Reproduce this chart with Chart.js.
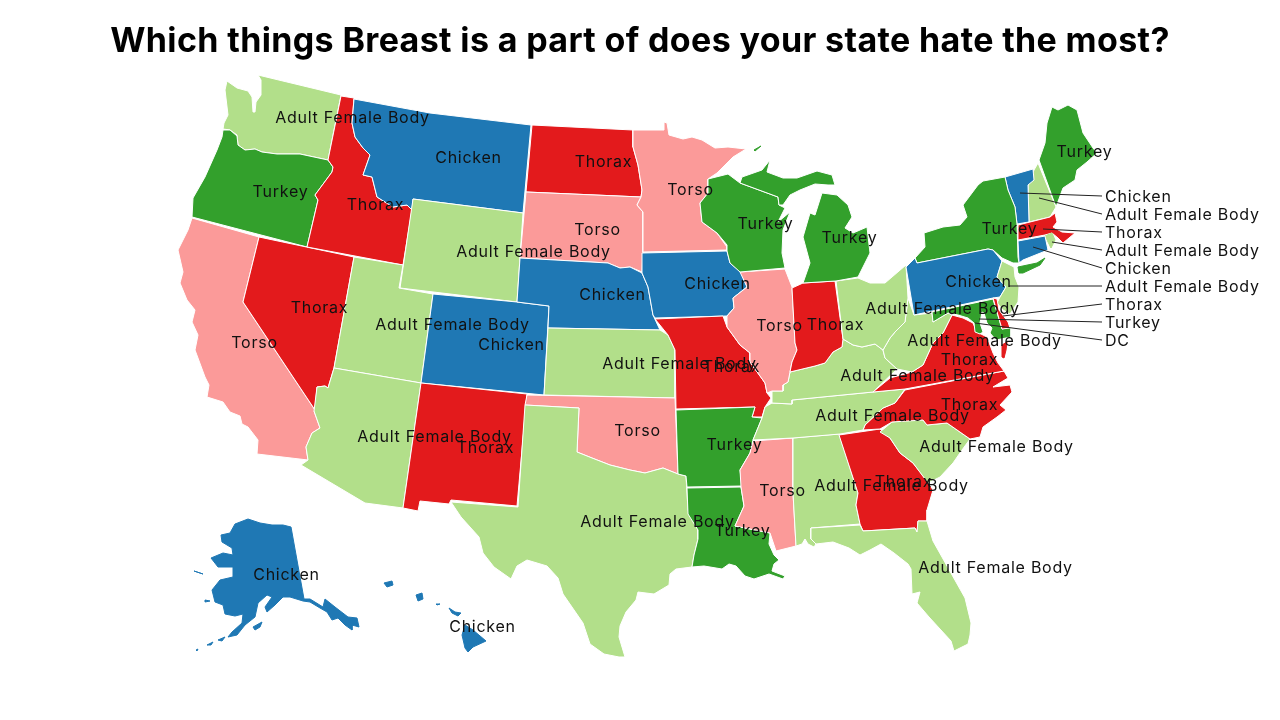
<!DOCTYPE html>
<html>
<head>
    <meta charset="utf-8" />
    <title>Which things Breast is a part of</title>
    <script src="https://cdn.jsdelivr.net/npm/chart.js"></script>
    <style>
        html, body { margin: 0; padding: 0; background: #fff; }
        canvas { display: block; }
    </style>
</head>
<body>
    <canvas id="mapChart" width="1280" height="720"></canvas>

    <script>
        // state outlines (x, y in picture units)
        const WA = [[227,81],[237,88],[248,91],[252,97],[253,112],[255,112],[256,102],[261,95],[261,80],[258,75],[341,95],[328,160],[300,154],[277,154],[262,152],[255,149],[245,150],[238,145],[237,135],[230,130],[223,129],[224,123],[228,115],[225,90]];
        const OR = [[223,130],[230,130],[237,136],[238,145],[245,150],[255,149],[262,152],[277,154],[300,154],[328,160],[333,167],[332,172],[315,195],[318,200],[307,247],[192,217],[193,198],[205,177],[217,150],[222,137]];
        const CA = [[192,218],[259,237],[243,302],[315,410],[314,411],[320,428],[312,433],[306,447],[308,460],[257,454],[258,440],[248,427],[242,424],[240,416],[230,412],[223,402],[207,397],[209,385],[205,377],[195,350],[198,335],[192,322],[195,310],[187,300],[180,283],[183,272],[178,250],[188,230]];
        const NV = [[259,237],[354,257],[334,368],[328,388],[325,386],[317,387],[315,410],[243,302]];
        const ID = [[341,96],[354,98],[352,123],[355,137],[363,148],[370,155],[363,175],[372,177],[377,197],[393,207],[407,205],[412,210],[403,265],[307,247],[318,200],[315,195],[332,172],[333,167],[328,160]];
        const MT = [[354,99],[430,113],[531,125],[523,213],[413,199],[412,210],[407,205],[393,207],[377,197],[372,177],[363,175],[370,155],[363,148],[355,137],[352,123]];
        const WY = [[413,199],[523,213],[517,302],[400,288]];
        const UT = [[354,257],[403,265],[399,288],[433,294],[421,383],[334,368]];
        const AZ = [[334,368],[421,383],[403,508],[365,503],[301,465],[308,460],[306,447],[312,433],[320,428],[314,411],[317,387],[325,386],[328,388]];
        const CO = [[433,294],[517,302],[549,306],[544,395],[421,383]];
        const NM = [[421,383],[527,394],[517,506],[451,500],[449,504],[420,501],[418,511],[403,508]];
        const ND = [[532,125],[633,130],[633,147],[638,165],[642,190],[641,197],[526,192]];
        const SD = [[526,192],[641,197],[637,205],[643,212],[643,252],[642,272],[630,267],[620,268],[608,263],[520,258]];
        const NE = [[520,258],[608,263],[620,268],[630,267],[642,273],[648,287],[653,315],[660,330],[548,328],[549,306],[517,302]];
        const KS = [[548,328],[660,330],[668,335],[675,350],[675,398],[544,395]];
        const OK = [[527,395],[675,398],[678,474],[663,468],[645,473],[630,470],[610,465],[592,458],[577,452],[579,408],[525,405]];
        const TX = [[525,405],[579,408],[577,452],[592,458],[610,465],[630,470],[645,473],[663,468],[678,474],[686,476],[688,510],[698,530],[698,539],[694,555],[692,567],[676,569],[670,574],[669,585],[654,594],[638,592],[636,600],[626,612],[620,626],[619,637],[625,657],[619,657],[604,654],[590,644],[583,623],[563,594],[558,578],[547,566],[527,560],[517,566],[511,579],[494,567],[483,553],[479,537],[461,517],[451,502],[518,507]];
        const MN = [[633,130],[664,130],[664,122],[667,123],[669,135],[683,139],[692,137],[702,140],[715,148],[728,147],[746,149],[733,157],[717,173],[708,179],[708,193],[700,203],[702,222],[717,233],[727,247],[727,250],[643,252],[643,212],[637,205],[641,197],[642,190],[638,165],[633,147]];
        const IA = [[642,253],[727,251],[730,263],[742,273],[747,287],[733,298],[734,308],[727,316],[655,318],[653,315],[648,287],[642,273]];
        const MO = [[655,319],[723,316],[727,327],[740,345],[750,353],[750,362],[765,383],[767,393],[771,398],[765,407],[762,417],[752,417],[755,407],[676,409],[675,350],[668,335]];
        const AR = [[676,410],[755,407],[752,417],[762,418],[753,440],[750,453],[740,470],[742,486],[687,487],[686,476],[678,474]];
        const LA = [[687,488],[741,487],[744,506],[735,526],[770,533],[769,544],[774,555],[779,560],[774,564],[772,571],[785,576],[783,579],[769,574],[763,576],[754,579],[745,576],[736,566],[729,564],[722,569],[704,566],[692,567],[694,555],[698,539],[698,530],[688,514]];
        const MS = [[753,441],[793,438],[793,493],[796,546],[776,551],[770,533],[735,526],[744,506],[741,487],[740,470],[750,453]];
        const AL = [[793,438],[839,434],[858,493],[856,505],[860,524],[811,528],[811,539],[816,544],[814,547],[808,544],[805,539],[802,544],[796,546],[793,493]];
        const GA = [[839,435],[880,429],[890,438],[900,453],[913,463],[928,482],[933,490],[927,510],[927,521],[918,521],[917,532],[915,528],[863,531],[860,524],[856,505],[858,493]];
        const FL = [[811,528],[860,525],[863,531],[915,528],[917,532],[918,521],[927,521],[933,541],[947,566],[965,598],[971,623],[970,635],[968,644],[954,651],[951,641],[929,617],[917,603],[920,592],[912,594],[911,569],[908,564],[894,553],[881,544],[870,550],[860,555],[849,548],[833,542],[816,544],[811,539]];
        const SC = [[880,432],[892,422],[908,420],[923,420],[927,425],[947,423],[970,439],[962,450],[953,463],[940,477],[928,483],[913,463],[900,453],[890,438]];
        const NC = [[905,390],[1004,371],[1008,378],[993,387],[1010,385],[1012,392],[1000,405],[1006,410],[997,417],[983,427],[980,437],[970,439],[947,423],[927,425],[923,420],[892,422],[880,429],[863,430],[865,425],[883,408],[895,403]];
        const TN = [[905,389],[895,403],[883,408],[865,425],[863,430],[840,434],[793,438],[753,440],[762,418],[765,407],[772,403],[792,404],[792,400],[873,392]];
        const KY = [[843,339],[853,345],[862,347],[875,344],[883,350],[885,358],[897,369],[873,392],[792,400],[792,404],[772,403],[772,391],[783,391],[783,385],[788,382],[790,372],[815,366],[825,363],[833,352],[842,347]];
        const VA = [[873,392],[890,378],[912,372],[923,365],[933,343],[943,333],[952,315],[963,318],[973,323],[977,332],[987,337],[993,353],[998,363],[1004,371],[905,389]];
        const VA2 = [[1002,357],[1002,345],[1007,342],[1006,350],[1004,358]];
        const WV = [[908,298],[914,315],[932,313],[933,322],[948,313],[952,315],[943,333],[933,343],[923,365],[912,372],[897,369],[885,358],[883,350],[890,338],[895,332],[905,322]];
        const IL = [[740,272],[785,269],[792,287],[795,343],[797,350],[792,362],[790,372],[788,382],[783,385],[783,391],[772,391],[767,393],[765,383],[750,362],[750,353],[740,345],[727,327],[727,316],[734,308],[733,298],[747,287]];
        const IN = [[792,288],[803,283],[835,281],[843,339],[842,347],[833,352],[825,363],[815,366],[790,372],[792,362],[797,350],[795,343]];
        const OH = [[836,281],[858,278],[870,283],[885,283],[906,265],[908,298],[905,322],[895,332],[890,338],[883,350],[875,344],[862,347],[853,345],[843,339]];
        const WI = [[708,179],[728,174],[740,183],[778,197],[779,205],[785,208],[778,222],[790,212],[783,230],[782,253],[785,268],[740,272],[730,263],[727,251],[727,245],[717,233],[702,222],[700,203],[708,193]];
        const MI_UP = [[740,183],[742,177],[762,170],[770,160],[767,172],[783,178],[797,178],[817,171],[832,175],[835,185],[828,185],[815,184],[800,190],[790,195],[783,205],[779,205],[778,197]];
        const MI_LP = [[822,193],[837,195],[848,205],[852,217],[845,228],[853,233],[867,227],[870,253],[858,277],[836,281],[803,283],[810,263],[803,237],[810,213],[815,215]];
        const MI_ISLE = [[754,150],[761,146],[755,151]];
        const ME = [[1039,160],[1045,143],[1047,123],[1052,107],[1058,110],[1068,105],[1077,110],[1083,133],[1093,148],[1097,153],[1087,162],[1077,170],[1075,180],[1063,188],[1056,207]];
        const NH = [[1038,163],[1056,207],[1050,217],[1029,222],[1028,184],[1034,170]];
        const VT = [[1005,177],[1033,169],[1034,180],[1028,185],[1029,222],[1017,224],[1015,207],[1008,190]];
        const MA = [[1018,225],[1050,217],[1055,213],[1057,222],[1053,227],[1062,232],[1075,233],[1063,243],[1058,238],[1052,233],[1045,235],[1018,240]];
        const RI = [[1045,236],[1052,233],[1055,240],[1051,248]];
        const CT = [[1018,241],[1045,236],[1048,250],[1023,260],[1019,263]];
        const NY = [[1005,177],[1008,190],[1015,207],[1017,224],[1018,257],[1019,263],[1013,263],[1002,258],[993,250],[988,249],[917,263],[915,258],[925,247],[924,233],[943,227],[960,225],[967,217],[963,205],[978,185],[983,181]];
        const NY_LI = [[1018,267],[1037,263],[1045,258],[1040,265],[1023,273],[1019,273]];
        const PA = [[906,267],[915,258],[917,263],[988,249],[993,250],[1002,261],[997,277],[1006,287],[1000,297],[993,298],[914,315]];
        const NJ = [[1002,261],[1014,267],[1015,277],[1019,287],[1018,302],[1010,314],[1003,310],[997,303],[1000,297],[1006,287],[997,277]];
        const MD = [[932,312],[993,299],[1002,329],[1011,327],[1011,337],[996,340],[990,333],[992,328],[987,323],[984,313],[982,312],[980,323],[983,332],[980,334],[975,332],[974,323],[968,318],[958,315],[948,313],[933,322]];
        const DE = [[993,298],[997,299],[999,310],[1008,322],[1010,328],[1002,329]];
        const AK = [[221,535],[230,533],[235,524],[248,519],[260,523],[272,525],[283,525],[291,527],[304,599],[303,601],[290,597],[283,597],[275,605],[267,612],[265,607],[272,597],[267,595],[258,603],[255,617],[245,625],[237,635],[228,637],[232,632],[242,623],[243,614],[235,616],[225,614],[223,605],[215,602],[212,590],[220,580],[233,577],[233,567],[218,567],[211,558],[223,553],[233,555],[232,548],[222,542]];
        const AK_SE = [[304,599],[310,599],[323,607],[325,599],[335,607],[348,617],[357,618],[359,627],[352,625],[352,630],[345,625],[338,618],[332,620],[327,612],[320,608],[310,602],[303,601]];
        const AK_KODIAK = [[253,627],[262,622],[260,627],[255,630]];
        const AK_NUNIVAK = [[205,600],[210,601],[205,602]];
        const AK_STL = [[194,571],[203,574],[197,572]];
        const AK_ALEUT1 = [[207,645],[213,642],[211,645]];
        const AK_ALEUT2 = [[218,640],[225,637],[222,641]];
        const AK_ALEUT3 = [[196,650],[198,649],[197,651]];
        const HI_KAUAI = [[384,583],[392,581],[393,585],[387,587]];
        const HI_OAHU = [[416,595],[422,593],[423,599],[418,601]];
        const HI_MOLOKAI = [[436,604],[440,604],[437,605]];
        const HI_MAUI = [[449,608],[455,612],[461,613],[458,616],[452,613]];
        const HI_BIG = [[465,625],[473,630],[486,641],[473,647],[468,652],[465,648],[462,635]];

        const ADULT = 'Adult Female Body', CHICKEN = 'Chicken', THORAX = 'Thorax', TORSO = 'Torso', TURKEY = 'Turkey';

        const stateShapes = [WA, OR, CA, NV, ID, MT, WY, UT, AZ, CO, NM, ND, SD, NE, KS, OK, TX, MN, IA, MO, AR, LA, MS, AL, GA, FL, SC, NC, TN, KY, VA, VA2, WV, IL, IN, OH, WI, MI_UP, MI_LP, MI_ISLE, ME, NH, VT, MA, RI, CT, NY, NY_LI, PA, NJ, MD, DE, AK, AK_SE, AK_KODIAK, AK_NUNIVAK, AK_STL, AK_ALEUT1, AK_ALEUT2, AK_ALEUT3, HI_KAUAI, HI_OAHU, HI_MOLOKAI, HI_MAUI, HI_BIG];
        const stateAnswers = [ADULT, TURKEY, TORSO, THORAX, THORAX, CHICKEN, ADULT, ADULT, ADULT, CHICKEN, THORAX, THORAX, TORSO, CHICKEN, ADULT, TORSO, ADULT, TORSO, CHICKEN, THORAX, TURKEY, TURKEY, TORSO, ADULT, THORAX, ADULT, ADULT, THORAX, ADULT, ADULT, THORAX, THORAX, ADULT, TORSO, THORAX, ADULT, TURKEY, TURKEY, TURKEY, TURKEY, TURKEY, ADULT, CHICKEN, THORAX, ADULT, CHICKEN, TURKEY, TURKEY, CHICKEN, ADULT, TURKEY, THORAX, CHICKEN, CHICKEN, CHICKEN, CHICKEN, CHICKEN, CHICKEN, CHICKEN, CHICKEN, CHICKEN, CHICKEN, CHICKEN, CHICKEN, CHICKEN];

        const answerColors = { 'Adult Female Body': '#b2df8a', 'Chicken': '#1f78b4', 'Thorax': '#e31a1c', 'Torso': '#fb9a99', 'Turkey': '#33a02c' };

        // labels on the states
        const labelTexts = [ADULT, CHICKEN, THORAX, TORSO, TURKEY, TURKEY, TURKEY, TURKEY, THORAX, TORSO, ADULT, CHICKEN, CHICKEN, TURKEY, CHICKEN, ADULT, ADULT, CHICKEN, THORAX, TORSO, TORSO, THORAX, ADULT, THORAX, ADULT, THORAX, ADULT, THORAX, ADULT, ADULT, ADULT, THORAX, TORSO, TURKEY, TORSO, ADULT, THORAX, ADULT, TURKEY, ADULT, CHICKEN, CHICKEN];
        const labelXs = [352, 468, 603, 690, 765, 849, 1084, 280, 375, 597, 533, 612, 717, 1009, 978, 942, 452, 511, 319, 254, 779, 835, 679, 731, 984, 969, 917, 969, 892, 996, 434, 485, 637, 734, 782, 891, 903, 657, 742, 995, 286, 482];
        const labelYs = [117, 157, 161, 189, 223, 237, 151, 191, 204, 229, 251, 294, 283, 228, 281, 308, 324, 344, 307, 342, 325, 324, 363, 366, 340, 359, 375, 404, 415, 446, 436, 447, 430, 444, 490, 485, 481, 521, 530, 567, 574, 626];

        // the small states on the right, with their leader lines
        const sideTexts = [CHICKEN, ADULT, THORAX, ADULT, CHICKEN, ADULT, THORAX, TURKEY, 'DC'];
        const sideYs = [196, 214, 232, 250, 268, 286, 304, 322, 340];
        const leaderStartXs = [1020, 1039, 1043, 1052, 1033, 1009, 1003, 979, 975];
        const leaderStartYs = [193, 198, 229, 242, 247, 286, 316, 319, 323];
        const leaderEndX = 1102;
        const sideTextX = 1105;

        // very small parts get no white edge, it would eat them
        const noEdgeShapes = [MI_ISLE, VA2, RI, NY_LI, AK, AK_SE, AK_KODIAK, AK_NUNIVAK, AK_STL, AK_ALEUT1, AK_ALEUT2, AK_ALEUT3, HI_KAUAI, HI_OAHU, HI_MOLOKAI, HI_MAUI, HI_BIG];

        const LABEL_FONT = '16px Inter, "Open Sans", sans-serif';
        const LABEL_SPACING = '0.75px';
        const TITLE_SPACING = '0.36px';

        const stateDatasets = stateShapes.map((shape, i) => {
            const color = answerColors[stateAnswers[i]];
            return {
                // last point repeats the first so the border goes all the way round
                data: shape.concat([shape[0]]).map(p => ({ x: p[0], y: p[1] })),
                backgroundColor: color,
                borderColor: noEdgeShapes.includes(shape) ? color : '#ffffff',
                borderWidth: 1,
                fill: 'shape',
                pointRadius: 0,
                tension: 0,
                order: stateShapes.length - i   // later states paint over earlier ones
            };
        });

        const leaderDatasets = sideTexts.map((t, i) => ({
            data: [{ x: leaderStartXs[i], y: leaderStartYs[i] }, { x: leaderEndX, y: sideYs[i] }],
            borderColor: '#222222',
            borderWidth: 1,
            fill: false,
            pointRadius: 0,
            tension: 0,
            order: 0   // on top of the states
        }));

        const textPlugin = {
            id: 'mapText',
            beforeDraw(chart) {
                chart.ctx.letterSpacing = TITLE_SPACING;
            },
            beforeDatasetsDraw(chart) {
                chart.ctx.letterSpacing = '0px';
            },
            afterDatasetsDraw(chart) {
                const ctx = chart.ctx, sx = chart.scales.x, sy = chart.scales.y;
                ctx.save();
                ctx.font = LABEL_FONT;
                ctx.letterSpacing = LABEL_SPACING;
                ctx.fillStyle = '#111111';
                ctx.textBaseline = 'middle';
                ctx.textAlign = 'center';
                labelTexts.forEach((t, i) => ctx.fillText(t, sx.getPixelForValue(labelXs[i]) + 0.5, sy.getPixelForValue(labelYs[i]) + 1));
                ctx.textAlign = 'left';
                sideTexts.forEach((t, i) => ctx.fillText(t, sx.getPixelForValue(sideTextX), sy.getPixelForValue(sideYs[i]) + 1));
                ctx.restore();
                ctx.letterSpacing = TITLE_SPACING;
            }
        };

        new Chart(document.getElementById('mapChart'), {
            type: 'line',
            data: { datasets: stateDatasets.concat(leaderDatasets) },
            plugins: [textPlugin],
            options: {
                responsive: false,
                animation: false,
                layout: { padding: 0 },
                scales: {
                    x: { type: 'linear', min: 0, max: 1280, display: false },
                    y: { type: 'linear', min: 60, max: 720, reverse: true, display: false }
                },
                plugins: {
                    legend: { display: false },
                    tooltip: { enabled: false },
                    title: {
                        display: true,
                        text: 'Which things Breast is a part of does your state hate the most?',
                        color: '#000000',
                        font: { family: 'Inter, "Open Sans", sans-serif', size: 34, weight: '700', lineHeight: 1 },
                        padding: { top: 25, bottom: 1 }
                    }
                }
            }
        });
    </script>
</body>
</html>
